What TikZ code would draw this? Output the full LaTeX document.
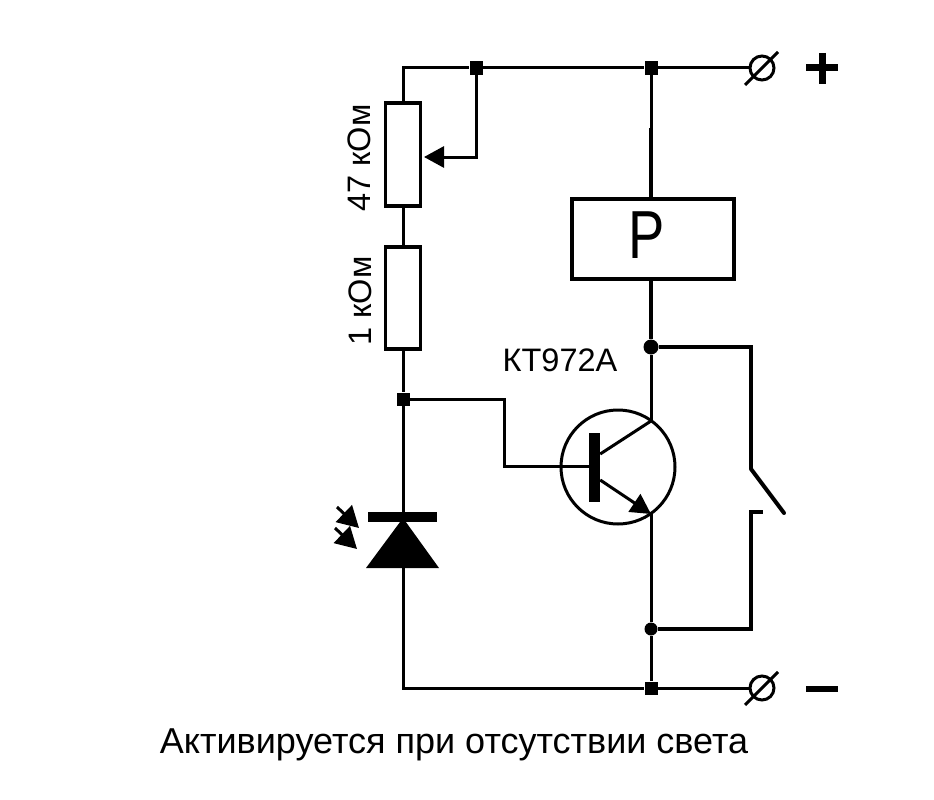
\documentclass[tikz,border=0pt]{standalone}
\usepackage{fontspec}
\setmainfont{Liberation Sans}
\usetikzlibrary{arrows.meta,positioning}
\tikzset{
  wire/.style={line width=3pt},
  heavy wire/.style={line width=4.8pt},
  body/.style={draw,line width=3.4pt,rectangle,minimum width=35.500pt,inner sep=0pt},
  square dot/.style={fill=black,rectangle,minimum size=13pt,inner sep=0pt},
  round dot/.style={fill=black,circle,minimum size=13pt,inner sep=0pt},
  terminal/.style={draw,circle,line width=3pt,minimum size=24pt,inner sep=0pt},
  label text/.style={font=\fontsize{32.5}{32.5}\selectfont,inner sep=0pt},
  light arrow/.style={wire,-{Triangle[length=21pt,width=23pt]}},
}
\begin{document}
\begin{tikzpicture}[x=1pt,y=-1pt,>={Triangle[length=20pt,width=21pt]}]
  \useasboundingbox (0,0) rectangle (934,800);
  % rails and junctions
  \coordinate (corner) at (403,68);
  \node[square dot] (tap) at (476,68) {};
  \node[square dot] (top) at (651,68) {};
  \node[terminal] (plus) at (762,68) {};
  \node[square dot] (mid) at (403,399) {};
  \coordinate (low) at (403,688);
  \node[square dot] (bot) at (651,688) {};
  \node[terminal] (minus) at (762,688) {};
  \node[round dot,minimum size=15pt] (coil) at (651,347) {};
  \node[round dot] (ret) at (651,629) {};
  % resistors
  \node[body,minimum height=103pt] (pot) at (403,154.500) {};
  \node[body,minimum height=102pt] (res) at (403,298) {};
  \node[label text,rotate=90] (potval) at (359,158) {47 кОм};
  \node[label text,rotate=90] (resval) at (360,301) {1 кОм};
  % relay
  \node[draw,line width=4.8pt,minimum width=162pt,minimum height=80pt,inner sep=0pt] (relay) at (653,239) {};
  \node[font=\fontsize{68}{68}\selectfont,inner sep=0pt,xscale=0.8] (relayname) at (647,235) {Р};
  % transistor
  \node[draw,circle,line width=3pt,minimum size=114pt,inner sep=0pt] (vt) at (618,467) {};
  \node[fill=black,minimum width=11pt,minimum height=69pt,inner sep=0pt] (basebar) at (594.500,467.500) {};
  \coordinate (coll) at (651,421);
  \coordinate (emit) at (651,514);
  \node[label text] (vtname) at (560,360) {КТ972А};
  % diode
  \node[fill=black,minimum width=69pt,minimum height=10pt,inner sep=0pt] (cath) at (402.500,517) {};
  \coordinate (anl) at (366,568);
  \coordinate (anr) at (439,568);
  \coordinate (apex) at (403,518);
  % light arrows
  \coordinate (sun1) at (337,507);
  \coordinate (hit1) at (359,528);
  \coordinate (sun2) at (335,528);
  \coordinate (hit2) at (357,549);
  % switch
  \coordinate (swtop) at (751,347);
  \coordinate (swpiv) at (751,469);
  \coordinate (swend) at (784,513);
  \coordinate (cont) at (751,512);
  \coordinate (contend) at (763,512);
  \coordinate (swbot) at (751,629);

  \draw[wire] (pot.north) -- (corner) -- (tap) -- (top) -- (plus);
  \draw[wire,->] (tap) |- (424,157);
  \draw[wire] (pot.south) -- (res.north);
  \draw[wire] (res.south) -- (mid) -- (mid |- cath);
  \draw[wire] (mid) -| (504,466) -- (basebar.west |- 0,466);
  \draw[wire] (top) -- (651,128);
  \draw[heavy wire] (651,128) -- (651,199);
  \draw[heavy wire] (651,279) -- (coil);
  \draw[wire] (coil) -- (coll);
  \draw[wire] (basebar.east |- 0,454) -- (coll);
  \draw[wire,->] (basebar.east |- 0,480) -- (emit);
  \draw[wire] (emit) -- (ret) -- (bot);
  \draw[wire] (anl -| apex) -- (low) -- (bot) -- (minus);
  \fill (apex) -- (anr) -- (anl) -- cycle;
  \draw[light arrow] (sun1) -- (hit1);
  \draw[light arrow] (sun2) -- (hit2);
  % terminals and signs
  \draw[wire] (745,85) -- (778,52);
  \draw[wire] (745,705) -- (778,672);
  \draw[line width=7pt] (806,68) -- (838,68) (822,53) -- (822,84);
  \draw[line width=6.500pt] (806,689) -- (838,689);
  % bypass contact
  \draw[heavy wire,line join=miter] (coil) -- (swtop) -- (swpiv);
  \draw[line width=4pt,line cap=round] (swpiv) -- (swend);
  \draw[heavy wire,line join=miter] (ret) -- (swbot) -- (cont) -- (contend);

  \node[font=\fontsize{36}{36}\selectfont,inner sep=0pt] (caption) at (454,745) {Активируется при отсутствии света};
\end{tikzpicture}
\end{document}
